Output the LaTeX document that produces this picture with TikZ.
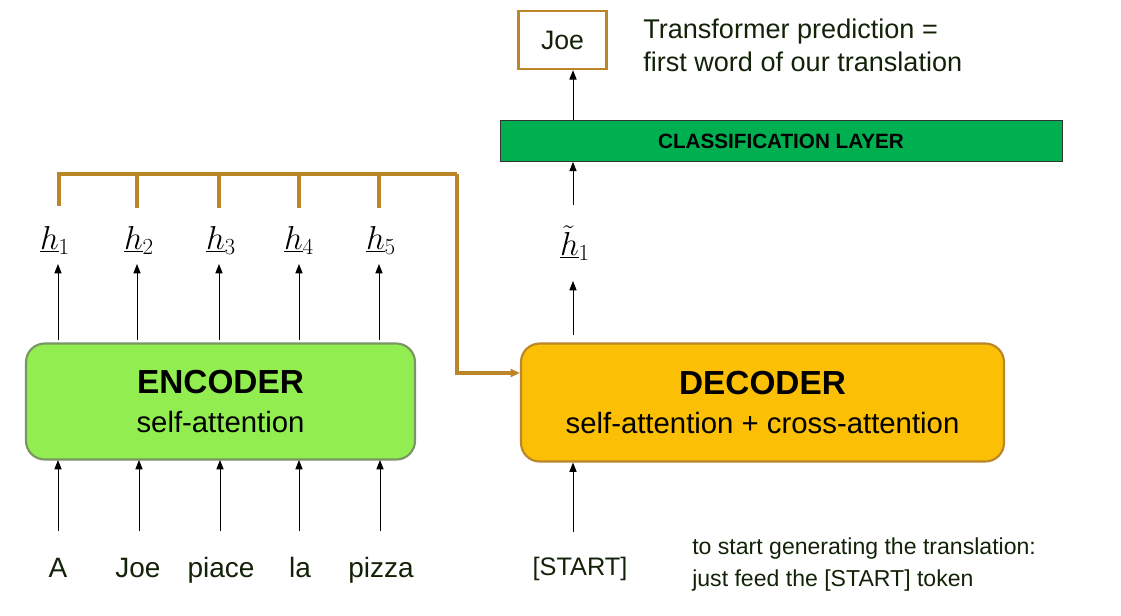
\documentclass[tikz,border=0pt]{standalone}
\usepackage{fontspec}
\setmainfont{Liberation Sans}
\usetikzlibrary{arrows.meta}
\definecolor{encfill}{RGB}{146,238,80}
\definecolor{encdraw}{RGB}{120,150,100}
\definecolor{decfill}{RGB}{251,191,5}
\definecolor{busbrown}{RGB}{186,134,40}
\definecolor{clsfill}{RGB}{0,176,80}
\definecolor{txtgreen}{RGB}{18,34,8}
\tikzset{
  blk/.style={rounded corners=14pt, line width=1.6pt, minimum width={#1*0.75pt}, minimum height={116*0.75pt}, align=center, font=\fontsize{22}{29}\selectfont},
  arr/.style={-{Triangle[width=5.4pt, length=7pt]}, line width=0.7pt, black},
  bus/.style={line width=2.4pt, busbrown},
  word/.style={font=\fontsize{21}{24}\selectfont, text=txtgreen, inner sep=0},
  hlab/.style={font=\fontsize{25}{28}\selectfont, inner sep=0},
  note/.style={font=\fontsize{17.3}{24}\selectfont, text=txtgreen, align=left, anchor=west, inner sep=0},
}
\begin{document}
\begin{tikzpicture}[x=0.75pt, y=-0.75pt]
\useasboundingbox (0,0) rectangle (1121,615);
% Encoder and decoder
\node[blk=389, fill=encfill, draw=encdraw] (enc) at (220.5,401.5)
  {{\fontsize{25}{29}\selectfont\bfseries ENCODER}\\self-attention};
\node[blk=483, minimum height={118*0.75pt}, fill=decfill, draw=busbrown] (dec) at (762.5,402.5)
  {{\fontsize{25}{29}\selectfont\bfseries DECODER}\\self-attention + cross-attention};
% input words
\foreach \w/\x/\n in {A/58/w1, Joe/138/w2, piace/221/w3, la/300/w4, pizza/381/w5}{
  \node[word, anchor=base] (\n) at (\x,577) {\w};
}
\foreach \x/\n in {58/w1, 139/w2, 220/w3, 299/w4, 380/w5}{
  \coordinate (s\n) at (\x,531);
  \coordinate (e\n) at (\x,460);
  \draw[arr] (s\n) -- (e\n);
}
% h labels
\foreach \i/\x in {1/55,2/139,3/221,4/299,5/381}{
  \node[hlab] (h\i) at (\x,240) {$\underline{h}_{\i}$};
}
\foreach \i/\x in {1/58,2/137,3/219,4/299,5/379}{
  \coordinate (eb\i) at (\x,340);
  \coordinate (et\i) at (\x,264);
  \draw[arr] (eb\i) -- (et\i);
}
% bus
\coordinate (busL) at (59,174);
\coordinate (busR) at (457,174);
\draw[bus] (59,206) -- (busL) -- (busR);
\foreach \x in {137,219,299,379}{ \draw[bus] (\x,174) -- (\x,208); }
\draw[bus, -{Triangle[width=6pt, length=7pt]}] (busR) |- (dec.west |- 0,373);
% decoder side
\node[word, font=\fontsize{19}{24}\selectfont, anchor=base] (start) at (580,575) {[START]};
\coordinate (sd) at (573,532);
\draw[arr] (sd) -- (dec.south -| sd);
\node[hlab] (ht) at (575,243) {$\underline{\tilde{h}}_{1}$};
\coordinate (dt) at (573,335);
\draw[arr] (dt) -- (573,281);
\node[draw=black!80, line width=0.6pt, fill=clsfill, minimum width={562*0.75pt}, minimum height={41*0.75pt}, inner sep=0,
  font=\fontsize{15.5}{18}\selectfont\bfseries] (cls) at (781,141) {CLASSIFICATION LAYER};
\coordinate (ct) at (573,205);
\draw[arr] (ct) -- (cls.south -| ct);
\node[draw=busbrown, line width=1.8pt, minimum width={88*0.75pt}, minimum height={58*0.75pt}, inner sep=0,
  font=\fontsize{20}{24}\selectfont, text=txtgreen] (joe) at (562.5,40) {Joe};
\draw[arr] (cls.north -| ct) -- (joe.south -| ct);
% notes
\node[note, font=\fontsize{20.3}{25}\selectfont] (n1) at (643,45) {Transformer prediction =\\first word of our translation};
\node[note] (n2) at (692,565) {to start generating the translation:\\just feed the [START] token};
\end{tikzpicture}
\end{document}
